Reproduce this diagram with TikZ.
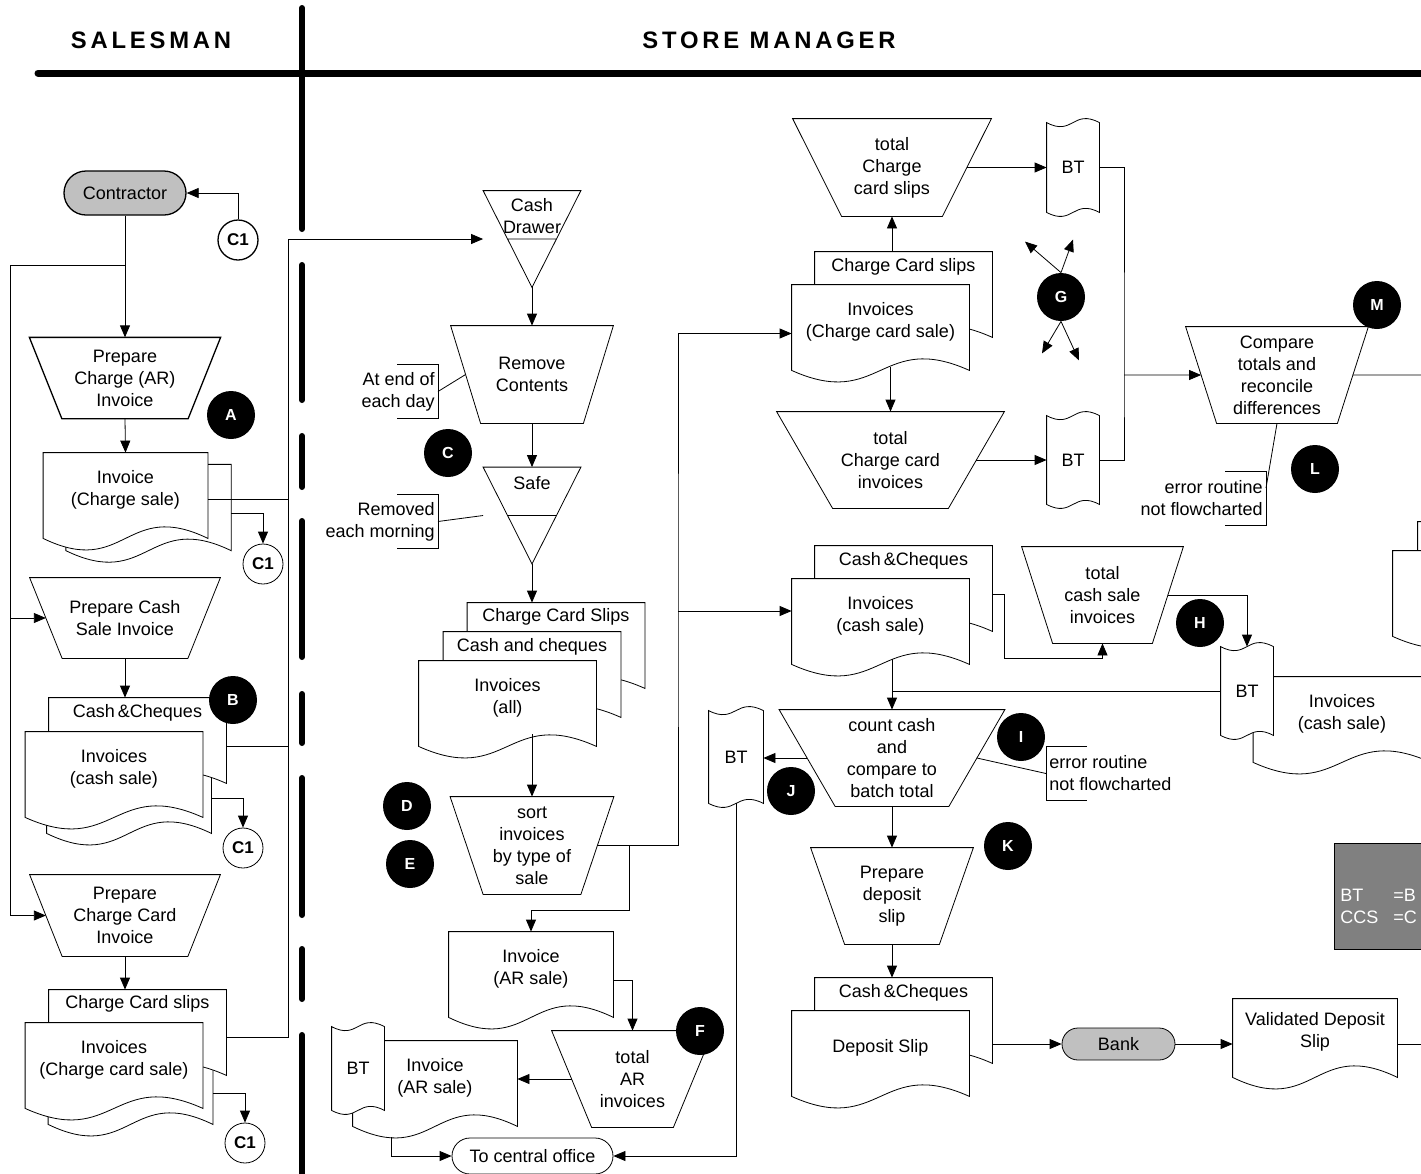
\documentclass[tikz,border=0pt]{standalone}
\usepackage{fontspec}
\setmainfont{Liberation Sans}
\newfontfamily\headfont[LetterSpace=16]{Liberation Sans}
\usetikzlibrary{shapes.misc,arrows.meta,backgrounds,calc}

\definecolor{termgray}{HTML}{C0C0C0}
\definecolor{boxgray}{HTML}{808080}

% document symbol behind a node: straight top, wavy bottom
\newcommand{\drawdoc}[1]{%
  \begin{pgfonlayer}{background}
  \draw[fill=white] (#1.north west) -- (#1.north east) -- ([yshift=-6pt]#1.south east)
    .. controls ([yshift=14pt]#1.south) and ([yshift=-26pt]#1.south) .. ([yshift=-6pt]#1.south west) -- cycle;
  \end{pgfonlayer}}
% punched tape symbol (batch total)
\newcommand{\drawtape}[1]{%
  \begin{pgfonlayer}{background}
  \draw[fill=white] (#1.north west) .. controls ([yshift=-7pt]#1.north) and ([yshift=7pt]#1.north) .. (#1.north east)
    -- (#1.south east) .. controls ([yshift=7pt]#1.south) and ([yshift=-7pt]#1.south) .. (#1.south west) -- cycle;
  \end{pgfonlayer}}
% manual operation symbol, #2 = inset of the bottom corners
\newcommand{\drawmanop}[2]{%
  \draw (#1.north west) -- (#1.north east) -- ([xshift=-#2]#1.south east) -- ([xshift=#2]#1.south west) -- cycle;
  \coordinate (#1-w) at ($(#1.north west)!.5!([xshift=#2]#1.south west)$);
  \coordinate (#1-e) at ($(#1.north east)!.5!([xshift=-#2]#1.south east)$);}
% offline storage symbol
\newcommand{\drawstore}[1]{%
  \draw (#1.north west) -- (#1.north east) -- (#1.south) -- cycle
    ($(#1.north west)!.5!(#1.south)$) -- ($(#1.north east)!.5!(#1.south)$);}
% annotation brackets
\newcommand{\bracketl}[1]{\draw ([xshift=-20.5pt]#1.north east) -- (#1.north east) -- (#1.south east) -- ([xshift=-20.5pt]#1.south east);}
\newcommand{\bracketr}[1]{\draw ([xshift=20.5pt]#1.north west) -- (#1.north west) -- (#1.south west) -- ([xshift=20.5pt]#1.south west);}

\begin{document}
\begin{tikzpicture}
[ x=0.5pt, y=-0.5pt, line width=0.65pt
, font=\fontsize{9}{11}\selectfont
, arr/.style={-{Triangle[length=6pt,width=5pt]}}
, manop/.style={rectangle, inner sep=0pt, align=center, minimum height=48pt}
, terminal/.style={rounded rectangle, draw, inner sep=1pt}
, docn/.style={rectangle, inner sep=0pt, align=center, minimum width=82pt, minimum height=36.5pt}
, docw/.style={docn, minimum width=88.5pt}
, doclbl/.style={inner sep=0pt}
, tapebox/.style={rectangle, inner sep=0pt, minimum width=26pt, minimum height=44pt}
, store/.style={rectangle, inner sep=0pt, minimum width=48.5pt, minimum height=48pt}
, conn/.style={circle, draw, fill=white, inner sep=0pt, minimum size=20pt, font=\fontsize{8.5}{9}\selectfont\bfseries}
, keycircle/.style={circle, fill=black, text=white, inner sep=0pt, minimum size=24pt, font=\fontsize{8}{9}\selectfont\bfseries}
, note/.style={inner sep=1.5pt, minimum height=26.5pt}
, lane/.style={line width=3pt, line cap=round}
, heading/.style={font=\headfont\fontsize{11.9}{14}\selectfont\bfseries}
]
\useasboundingbox (0,0) rectangle (1421,1174);
\clip (0,0) rectangle (1421,1174);

% Lanes:
\node[heading] (salesman) at (151,40) {SALESMAN};
\node[heading] (manager) at (769,40) {STORE MANAGER};
\draw[lane, line width=3.5pt] (38,73) -- (1440,73);
\draw[lane] (302,8) -- (302,229);
\foreach \a/\b in {265/400, 436/487, 521/657, 694/743, 778/915, 949/999, 1035/1190}
  \draw[lane] (302,\a) -- (302,\b);

% Salesman:
\node[terminal, fill=termgray, minimum width=63pt, minimum height=22pt] (contractor) at (125,193) {Contractor};
\node[conn] (c1a) at (238,240) {C1};
\node[manop, minimum width=95pt, minimum height=40pt] (prepAR) at (125,378) {Prepare\\Charge (AR)\\Invoice}; \drawmanop{prepAR}{16.25pt}
\node[keycircle] (lblA) at (231,415) {A};
\node[docn] (inv1b) at (148.5,501.5) {}; \drawdoc{inv1b}
\node[docn] (inv1f) at (125.5,489.5) {Invoice\\(Charge sale)}; \drawdoc{inv1f}
\node[conn] (c1b) at (263,564) {C1};

\node[manop, minimum width=95pt, minimum height=40pt] (prepCash) at (125,618) {Prepare Cash\\Sale Invoice}; \drawmanop{prepCash}{16.25pt}
\node[docn] (csm1) at (129,784.5) {}; \drawdoc{csm1}
\node[docw] (csb1) at (137.5,734.5) {}; \drawdoc{csb1}
\node[doclbl] (csb1l) at ([yshift=-7.5pt]csb1.north) {Cash\,\&Cheques};
\node[docw] (csf1) at (114,768.5) {Invoices\\(cash sale)}; \drawdoc{csf1}
\node[keycircle] (lblB) at (233,700) {B};
\node[conn] (c1c) at (243,848) {C1};

\node[manop, minimum width=95pt, minimum height=40.5pt] (prepCC) at (125,915.5) {Prepare\\Charge Card\\Invoice}; \drawmanop{prepCC}{16.25pt}
\node[docn] (ccm1) at (130.5,1075.5) {}; \drawdoc{ccm1}
\node[docw] (ccb1) at (137.5,1026.5) {}; \drawdoc{ccb1}
\node[doclbl] (ccb1l) at ([yshift=-7pt]ccb1.north) {Charge Card slips};
\node[docw] (ccf1) at (114,1059.5) {Invoices\\(Charge card sale)}; \drawdoc{ccf1}
\node[conn] (c1d) at (245,1143) {C1};

\coordinate (brk) at (125,265);
\coordinate (brkl) at (10,265);
\coordinate (trk) at (288,239);
\coordinate (trkb) at (288,1038);
\draw[arr] (c1a.north) |- (contractor.east);
\draw[arr] (contractor.south) -- (prepAR.north);
\draw (brk) -- (brkl);
\draw[arr] (brkl) |- (prepCash-w);
\draw[arr] (brkl) |- (prepCC-w);
\draw[arr] (prepAR.south) -- (inv1f.south |- inv1f.north);
\draw[arr] ([yshift=-6pt]inv1b.east) -| (c1b.north);
\draw ([yshift=-5pt]inv1f.east) -- ([yshift=-5pt]inv1f.east -| trk);
\draw[arr] (prepCash.south) -- (prepCash.south |- csb1.north);
\draw ([yshift=-6pt]csb1.east) -- ([yshift=-6pt]csb1.east -| trk);
\draw[arr] ([yshift=-7pt]csm1.east) -| (c1c.north);
\draw[arr] (prepCC.south) -- (prepCC.south |- ccb1.north);
\draw ([yshift=-5.5pt]ccb1.east) -- ([yshift=-5.5pt]ccb1.east -| trk);
\draw[arr] ([yshift=-9pt]ccm1.east) -| (c1d.north);
\draw (trk) -- (trkb);

% Store manager, cash drawer and safe:
\node[store] (drawer) at (532,239) {}; \drawstore{drawer}
\node[inner sep=0pt, align=center] (drawerlbl) at (532,216.5) {Cash\\Drawer};
\node[manop, minimum width=81pt, minimum height=48.5pt] (remove) at (532,374.5) {Remove\\Contents}; \drawmanop{remove}{15pt}
\node[note, anchor=east, align=right] (ann1) at (438,391.5) {At end of\\each day}; \bracketl{ann1}
\node[keycircle] (lblC) at (448,453) {C};
\node[store] (safe) at (532,515.5) {}; \drawstore{safe}
\node[inner sep=0pt] (safelbl) at (532,483) {Safe};
\node[note, anchor=east, align=right] (ann2) at (438,521.5) {Removed\\each morning}; \bracketl{ann2}

\node[docw] (allb1) at (556,639.5) {}; \drawdoc{allb1}
\node[doclbl] (allb1l) at ([yshift=-7pt]allb1.north) {Charge Card Slips};
\node[docw] (allb2) at (532,668.5) {}; \drawdoc{allb2}
\node[doclbl] (allb2l) at ([yshift=-7.5pt]allb2.north) {Cash and cheques};
\node[docw] (allf) at (507.5,697.5) {Invoices\\(all)}; \drawdoc{allf}
\node[keycircle] (lblD) at (407,806) {D};
\node[keycircle] (lblE) at (410,864) {E};
\node[manop, minimum width=81.5pt, minimum height=48.5pt] (sort) at (532,845.5) {sort\\invoices\\by type of\\sale}; \drawmanop{sort}{16.5pt}
\node[docn] (invar) at (531,968.5) {Invoice\\(AR sale)}; \drawdoc{invar}
\node[manop, minimum width=80.5pt] (totar) at (632.5,1079) {total\\AR\\invoices}; \drawmanop{totar}{20pt}
\node[keycircle] (lblF) at (700,1031) {F};
\node[docn] (invarb) at (435,1077.5) {Invoice\\(AR sale)}; \drawdoc{invarb}
\node[tapebox, minimum height=41.5pt] (bt5) at (358,1068.5) {BT}; \drawtape{bt5}
\node[terminal, fill=white, minimum width=82.5pt, minimum height=18pt] (central) at (532.5,1156) {To central office};

\coordinate (spl) at (678,611);
\coordinate (sbr) at (629,910);
\coordinate (arbot) at (391,1137);
\draw[arr] (trk) -- (drawer.west);
\draw[arr] (drawer.south) -- (remove.north);
\draw (ann1.east) -- (remove-w);
\draw[arr] (remove.south) -- (safe.north);
\draw (ann2.east) -- (safe.west);
\draw[arr] (safe.south) -- (safe.south |- allb1.north);
\draw[arr] (sort.north |- allf.south) -- (sort.north);
\draw[arr] (sort-e -| sbr) -- (sbr) -| (invar.north);
\draw[arr] ([yshift=-6pt]invar.east) -| (totar.north);
\draw[arr] (totar-w) -- (totar-w -| invarb.east);
\draw[arr] (arbot) |- (central.west);

% Store manager, charge card sales:
\node[manop, minimum width=99pt, minimum height=48.5pt] (tccs) at (892,167.5) {total\\Charge\\card slips}; \drawmanop{tccs}{24.5pt}
\node[tapebox, minimum height=44.5pt] (bt1) at (1073,167.5) {BT}; \drawtape{bt1}
\node[docw] (ccb2) at (903.5,288.5) {}; \drawdoc{ccb2}
\node[doclbl] (ccb2l) at ([yshift=-7.5pt]ccb2.north) {Charge Card slips};
\node[docw] (ccf2) at (880.5,321.5) {Invoices\\(Charge card sale)}; \drawdoc{ccf2}
\node[keycircle] (lblG) at (1061,297) {G};
\node[manop, minimum width=113.5pt] (tcci) at (890.5,460) {total\\Charge card\\invoices}; \drawmanop{tcci}{28pt}
\node[tapebox] (bt2) at (1073,460) {BT}; \drawtape{bt2}
\node[manop, minimum width=91pt] (compare) at (1277,375) {Compare\\totals and\\reconcile\\differences}; \drawmanop{compare}{15.5pt}
\node[keycircle] (lblM) at (1377,305) {M};
\node[note, anchor=east, align=right] (ann3) at (1266,498) {error routine\\not flowcharted}; \bracketl{ann3}
\node[keycircle] (lblL) at (1315,469) {L};

\coordinate (ccbot) at (890.5,367);
\coordinate (cmpj) at (1124,375);
\coordinate (cmpout) at (1440,375);
\draw[arr] (sort-e) -| (spl) |- ([yshift=-6pt]ccf2.west);
\draw[arr] (tccs.south |- ccb2.north) -- (tccs.south);
\draw[arr] (ccbot) -- (tcci.north);
\draw[arr] (tccs-e) -- (tccs-e -| bt1.west);
\draw[arr] (tcci-e) -- (tcci-e -| bt2.west);
\draw (bt1.east) -| (cmpj) |- (bt2.east);
\draw[arr] (cmpj) -- (compare-w);
\draw (compare-e) -- (cmpout);
\draw (compare.south) -- ([yshift=5pt]ann3.east);
\draw[arr] (lblG.north) -- ++(-36,-31);
\draw[arr] (lblG.north) -- ++(12,-33);
\draw[arr] (lblG.south) -- ++(-19,32);
\draw[arr] (lblG.south) -- ++(18,39);

% Store manager, cash sales:
\node[docw] (csb2) at (903.5,582.5) {}; \drawdoc{csb2}
\node[doclbl] (csb2l) at ([yshift=-7.5pt]csb2.north) {Cash\,\&Cheques};
\node[docw] (csf2) at (880.5,615.5) {Invoices\\(cash sale)}; \drawdoc{csf2}
\node[manop, minimum width=80.5pt] (tcsi) at (1102.5,595) {total\\cash sale\\invoices}; \drawmanop{tcsi}{15.5pt}
\node[keycircle] (lblH) at (1200,623) {H};
\node[docw] (pcb) at (1506.5,558.5) {}; \drawdoc{pcb}
\node[docw] (pcf) at (1481.5,587.5) {}; \drawdoc{pcf}
\node[docw] (invcs3) at (1342,713.5) {Invoices\\(cash sale)}; \drawdoc{invcs3}
\node[tapebox] (bt3) at (1247,691) {BT}; \drawtape{bt3}
\node[manop, minimum width=112.5pt] (count) at (892,758) {count cash\\and\\compare to\\batch total}; \drawmanop{count}{28pt}
\node[keycircle] (lblI) at (1021,737) {I};
\node[note, anchor=west, align=left] (ann4) at (1046,773.5) {error routine\\not flowcharted}; \bracketr{ann4}
\node[tapebox, minimum width=27pt, minimum height=46pt] (bt4) at (736,757) {BT}; \drawtape{bt4}
\node[keycircle] (lblJ) at (791,791) {J};
\node[manop, minimum width=81pt] (prepdep) at (892,896) {Prepare\\deposit\\slip}; \drawmanop{prepdep}{17pt}
\node[keycircle] (lblK) at (1008,846) {K};
\node[docw] (depb) at (903.5,1014.5) {}; \drawdoc{depb}
\node[doclbl] (depbl) at ([yshift=-7.5pt]depb.north) {Cash\,\&Cheques};
\node[docw] (depf) at (880.5,1047.5) {Deposit Slip}; \drawdoc{depf}
\node[terminal, fill=termgray, minimum width=58.5pt, minimum height=16pt] (bank) at (1118.5,1044) {Bank};
\node[docn, minimum height=33pt] (valid) at (1315,1032) {Validated Deposit\\Slip}; \drawdoc{valid}
\node[draw, fill=boxgray, inner sep=0pt, minimum width=100pt, minimum height=53pt, anchor=north west] (legend) at (1334,843) {};
\node[anchor=west, text=white, align=left, inner sep=0pt] (legtxt) at (1340,906) {\makebox[26.5pt][l]{BT}=B\\\makebox[26.5pt][l]{CCS}=C};

\coordinate (csj) at (1004,658);
\coordinate (csbot) at (892,659);
\coordinate (vout) at (1440,1044);
\draw[arr] (spl) -- (spl -| csf2.west);
\draw[arr] ([yshift=-6pt]csb2.east) -| (csj) -| (tcsi.south);
\draw[arr] (tcsi-e) -| (bt3.north);
\draw (csbot) -- (csbot |- bt3.west);
\draw[arr] (bt3.west) -| (count.north);
\draw[arr] (count-w) -- (count-w -| bt4.east);
\draw (count-e) -- (ann4.west);
\draw[arr] (bt4.south) |- (central.east);
\draw[arr] (count.south) -- (prepdep.north);
\draw[arr] (prepdep.south) -- (prepdep.south |- depb.north);
\draw[arr] (depb.east |- bank.west) -- (bank.west);
\draw[arr] (bank.east) -- (bank.east -| valid.west);
\draw (valid.east |- vout) -- (vout);
\end{tikzpicture}
\end{document}
